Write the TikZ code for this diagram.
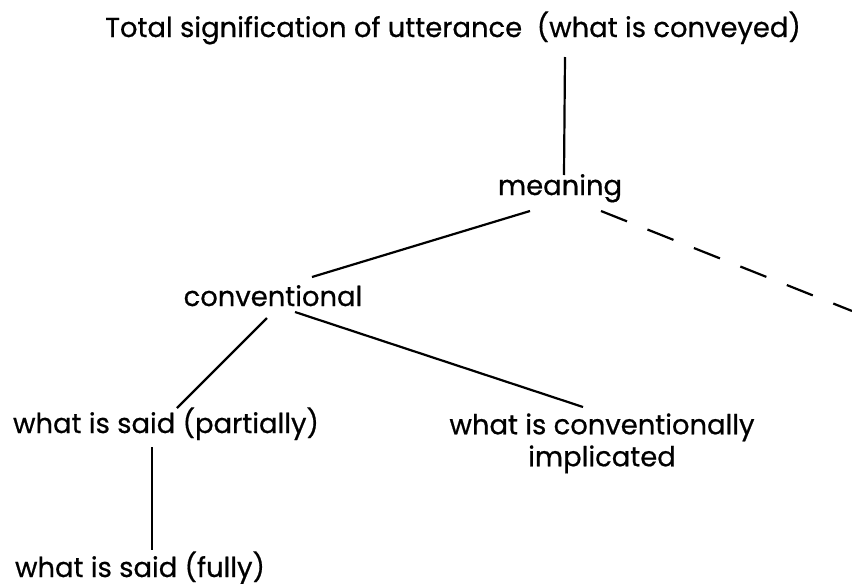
\documentclass[tikz,border=0pt]{standalone}
\usepackage{fontspec}
\setmainfont[FakeBold=0.6]{Poppins}
\usepackage{tikz}
\usetikzlibrary{calc}

\begin{document}
\begin{tikzpicture}[x=0.5pt,y=-0.5pt,
        lbl/.style={anchor=base,inner sep=1pt,font=\fontsize{13.7}{16}\selectfont},
        link/.style={line width=1.1pt},
        dashlink/.style={link,dash pattern=on 14pt off 11pt}]
            \def\W{852} \def\H{584}
            \useasboundingbox (0,0) rectangle (\W,\H);

            \node[lbl] (title) at (453,37) {Total signification of utterance\ \ (what is conveyed)};
            \node[lbl] (meaning) at (560,195) {meaning};
            \node[lbl] (conv) at (273,306) {conventional};
            \node[lbl] (saidpart) at (166,433) {what is said (partially)};
            \node[lbl,anchor=north,align=center] (conimpl) at (602,411) {what is conventionally\\implicated};
            \node[lbl] (saidfull) at (140,577) {what is said (fully)};
            \coordinate (offpage) at (\W,311);

            \draw[link] ($(meaning.base)+(4,-20)$) -- ($(meaning.base |- title.base)+(5,20)$);
            \draw[link] ($(meaning.base)+(-30,16)$) -- ($(conv.base)+(39,-29)$);
            \draw[dashlink] ($(meaning.base)+(41,16)$) -- (offpage);
            \draw[link] ($(conv.base)+(-6,12)$) -- ($(saidpart.base)+(11,-25)$);
            \draw[link] ($(conv.base)+(22,6)$) -- ($(conimpl.north)+(-19,-4)$);
            \draw[link] ($(saidpart.base)+(-14,14)$) -- ($(saidfull.base)+(12,-27)$);
        \end{tikzpicture}
\end{document}
